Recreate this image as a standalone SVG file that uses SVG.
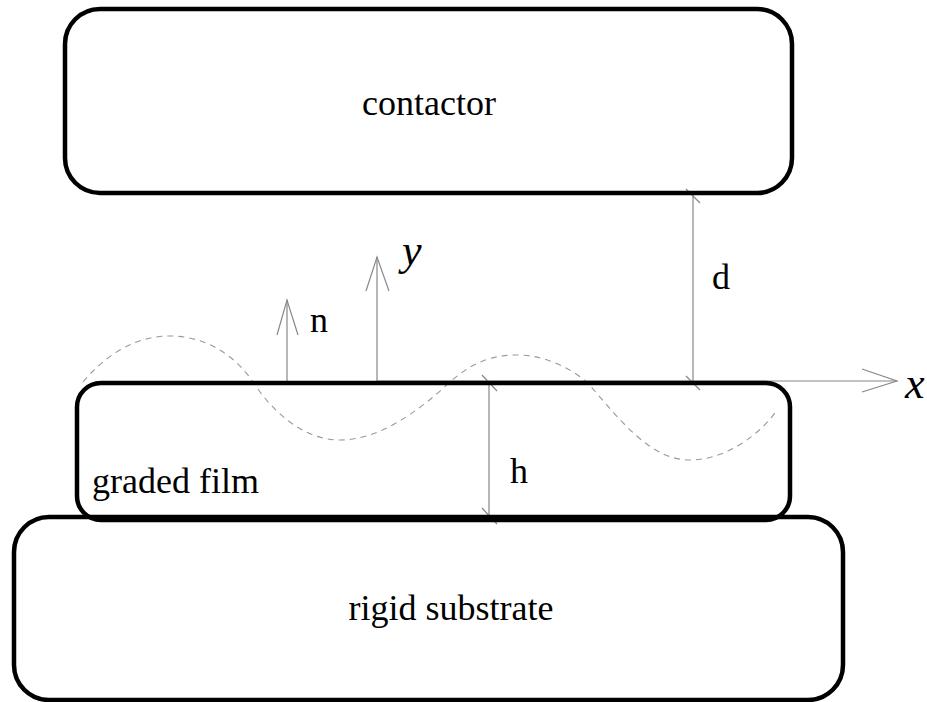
<svg xmlns="http://www.w3.org/2000/svg" width="927" height="702" viewBox="0 0 927 702">
<style>
.box{fill:none;stroke:#000;stroke-width:4.5}
.ax{fill:none;stroke:#888;stroke-width:1.2}
.wave{fill:none;stroke:#999;stroke-width:1.1;stroke-dasharray:6 5}
text{font-family:'Liberation Serif','DejaVu Serif',serif;fill:#000}
.lbl{font-size:36px}
.it{font-style:italic;font-size:44px}
</style>
<rect width="927" height="702" fill="#fff"/>
<g id="connectors">
<path class="wave" d="M83,382 C110,350 140,336 170,336 C205,336 235,355 253,382 C275,415 305,440 340,440 C380,440 420,410 450,382 C475,360 495,355 517,355 C545,355 570,368 587,382 C620,420 650,460 690,460 C725,460 760,435 777,410"/>
<line class="ax" x1="377" y1="381" x2="897" y2="381"/>
<polyline class="ax" points="862,369 897,381 862,392"/>
<line class="ax" x1="377" y1="381" x2="377" y2="257"/>
<polyline class="ax" points="366,291 377,257 389,291"/>
<line class="ax" x1="287" y1="381" x2="287" y2="300"/>
<polyline class="ax" points="277,335 287,300 298,335"/>
<line class="ax" x1="693" y1="193" x2="693" y2="382"/>
<line class="ax" x1="686" y1="189" x2="700" y2="203"/>
<line class="ax" x1="686" y1="376" x2="700" y2="390"/>
<line class="ax" x1="489" y1="383" x2="489" y2="520"/>
<line class="ax" x1="482" y1="375" x2="497" y2="391"/>
<line class="ax" x1="482" y1="508" x2="497" y2="524"/>
</g>
<g id="contactor">
<rect class="box" x="65" y="9" width="727" height="184" rx="35"/>
<text class="lbl" x="429" y="115" text-anchor="middle">contactor</text>
</g>
<g id="substrate">
<rect class="box" x="14" y="517" width="829" height="183" rx="35"/>
<text class="lbl" x="451" y="620" text-anchor="middle">rigid substrate</text>
</g>
<g id="film">
<rect class="box" x="77" y="383" width="713" height="137" rx="24"/>
<text class="lbl" x="92" y="493">graded film</text>
</g>
<g id="labels">
<text class="lbl" x="310" y="332">n</text>
<text class="lbl" x="712" y="289">d</text>
<text class="lbl" x="510" y="483">h</text>
<text class="it" x="402" y="265">y</text>
<text class="it" x="905" y="398">x</text>
</g>
</svg>
